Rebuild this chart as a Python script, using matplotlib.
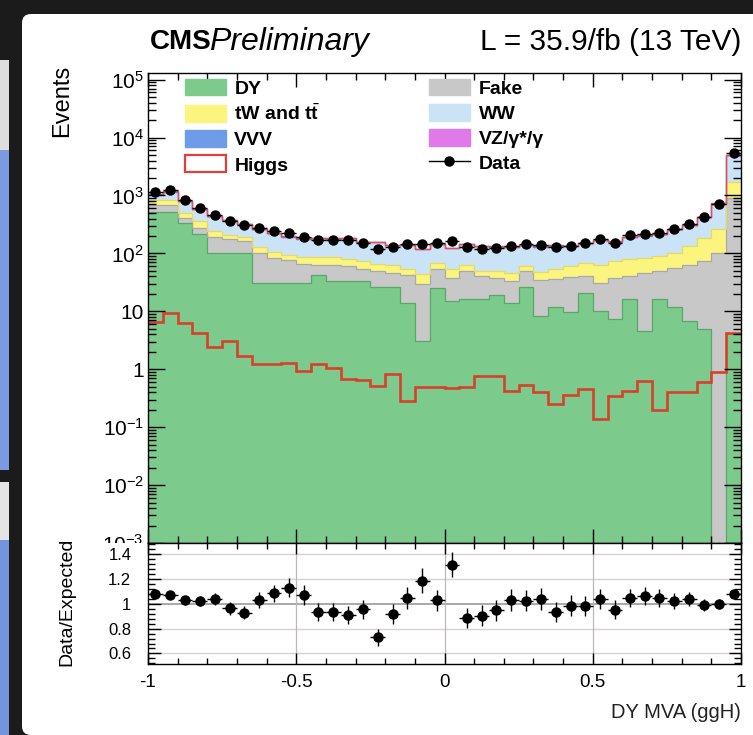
import numpy as np
import matplotlib
matplotlib.use('Agg')
import matplotlib.pyplot as plt
from matplotlib.patches import Rectangle, FancyBboxPatch, Patch
from matplotlib.lines import Line2D
from matplotlib.transforms import Bbox, TransformedBbox
from matplotlib.ticker import FixedLocator, MultipleLocator, LogLocator, FuncFormatter, NullFormatter

plt.rcParams['font.family'] = ['Liberation Sans', 'DejaVu Sans']
plt.rcParams['mathtext.fontset'] = 'custom'
plt.rcParams['mathtext.rm'] = 'Liberation Sans'
plt.rcParams['mathtext.it'] = 'Liberation Sans:italic'
plt.rcParams['mathtext.bf'] = 'Liberation Sans:bold'

# 40 bins of the DY MVA (ggH) output
edges = np.linspace(-1.0, 1.0, 41)
centers = 0.5 * (edges[1:] + edges[:-1])

dy = np.array([520, 510, 340, 213, 103, 103, 103, 31, 31, 31,
               31, 43, 34, 33, 33, 26, 26, 14, 3.1, 25,
               15, 16, 16, 19, 14, 26, 8.3, 12, 9.6, 21,
               10, 7.5, 16, 4.6, 16, 11.7, 6.7, 4.9, 0, 4.3])
fake = np.array([160, 180, 70, 64, 91, 71, 60, 69, 51, 45,
                 34, 21, 28, 27, 20, 23, 20, 28, 27, 28,
                 23, 33, 24, 19, 19, 23, 27, 24, 30, 19,
                 21, 30, 24, 41, 33, 44, 57, 69, 103, 896])
top = np.array([140, 140, 90, 83, 49, 30, 31, 30, 23, 19,
                20, 24, 23, 19, 21, 17, 16, 11, 14, 16,
                15, 15, 9, 11, 13, 11, 13, 17, 20, 29,
                33, 36, 39, 38, 41, 47, 70, 112, 157, 800])
ww = np.array([200, 314, 283, 211, 185, 159, 124, 125, 113, 95,
               91, 91, 92, 103, 82, 90, 72, 84, 73, 72,
               69, 79, 81, 79, 81, 76, 80, 81, 73, 79,
               100, 83, 111, 116, 119, 151, 164, 237, 452, 3143])
vz = np.array([20, 22, 15, 11, 8, 7, 6, 5, 4.5, 4,
               3.8, 3.7, 3.6, 3.5, 3.2, 3.1, 2.9, 2.8, 2.6, 2.8,
               2.6, 2.7, 2.6, 2.6, 2.6, 2.7, 2.6, 2.7, 2.7, 3.0,
               3.2, 3.2, 3.7, 3.9, 4.1, 4.8, 5.6, 7.5, 12, 60])
vvv = np.array([2.0, 2.2, 1.6, 1.2, 0.9, 0.8, 0.7, 0.6, 0.5, 0.5,
                0.45, 0.45, 0.45, 0.45, 0.4, 0.4, 0.4, 0.38, 0.35, 0.4,
                0.38, 0.4, 0.38, 0.38, 0.38, 0.4, 0.38, 0.4, 0.4, 0.42,
                0.45, 0.45, 0.5, 0.55, 0.58, 0.68, 0.8, 1.1, 1.8, 10])
higgs = np.array([6.5, 9.5, 6.4, 4.3, 2.4, 3.1, 1.7, 1.22, 1.22, 1.3,
                  0.93, 1.22, 1.07, 0.67, 0.65, 0.52, 0.82, 0.28, 0.5, 0.5,
                  0.47, 0.5, 0.75, 0.75, 0.42, 0.53, 0.40, 0.25, 0.36, 0.45,
                  0.14, 0.35, 0.42, 0.63, 0.20, 0.41, 0.41, 0.60, 0.88, 4.3])
data = np.array([1130, 1260, 830, 600, 457, 360, 303, 270, 243, 221,
                 194, 172, 170, 170, 153, 117, 127, 147, 143, 149,
                 165, 130, 121, 125, 134, 143, 137, 128, 134, 149,
                 174, 153, 204, 218, 224, 266, 316, 428, 725, 5300])

W, H = 753, 735
fig = plt.figure(figsize=(W / 100, H / 100), dpi=100)
fig.patch.set_facecolor('#1b1b1b')


def fbox(x0, y0, x1, y1):
    # pixel box (top-left origin) -> figure fraction [left, bottom, width, height]
    return [x0 / W, 1 - y1 / H, (x1 - x0) / W, (y1 - y0) / H]


# white canvas and the screen strip on the left
fig.patches.append(FancyBboxPatch((22 / W, 0), 1.0, 1 - 14 / H,
                                  boxstyle='round,pad=0,rounding_size=0.012',
                                  transform=fig.transFigure, fc='white', ec='none', zorder=-5))
for (x0, y0, x1, y1, c) in [(0, 60, 9, 150, '#dedede'), (0, 150, 9, 470, '#7b9be0'),
                            (0, 482, 9, 540, '#e4e4e4'), (0, 540, 9, 735, '#7395dc')]:
    b = fbox(x0, y0, x1, y1)
    fig.patches.append(Rectangle((b[0], b[1]), b[2], b[3], transform=fig.transFigure,
                                 fc=c, ec='none', zorder=-5))

ax = fig.add_axes(fbox(148, 73, 741, 543))
rax = fig.add_axes(fbox(148, 543, 741, 664), sharex=ax)

# stacked backgrounds
stack = [(dy, '#7ccb8d', '#58a86a'),
         (fake, '#c8c8c8', '#a9a9a9'),
         (top, '#fbf47f', '#e5dc5e'),
         (ww, '#cbe3f6', '#b2cfe8'),
         (vz, '#e07ae8', '#c05cc8'),
         (vvv, '#6e9ce8', '#5a86d0')]
cum = np.zeros(len(dy))
for vals, fc, ec in stack:
    new = cum + vals
    ax.stairs(new, edges, baseline=cum, fill=True, color=fc, lw=0, zorder=1)
    ax.stairs(new, edges, baseline=None, color=ec, lw=0.9, zorder=1.1)
    cum = new
total = cum + higgs
ax.stairs(total, edges, baseline=None, color='#e4505a', lw=1.0, zorder=1.2)
ax.stairs(higgs, edges, baseline=None, color='#d6412c', lw=1.9, zorder=1.3)

ax.errorbar(centers, data, xerr=0.025, yerr=np.sqrt(data), fmt='o', color='black',
            ms=6.5, lw=1.0, capsize=0, zorder=3)

ax.set_yscale('log', nonpositive='clip')
ax.set_xlim(-1, 1)
ax.set_ylim(1e-3, 1.3e5)

ymaj = [1e-3, 1e-2, 1e-1, 1, 10, 1e2, 1e3, 1e4, 1e5]
ylab = ['$10^{-3}$', '$10^{-2}$', '$10^{-1}$', '1', '10',
        '$10^{2}$', '$10^{3}$', '$10^{4}$', '$10^{5}$']
ax.yaxis.set_major_locator(FixedLocator(ymaj))
ax.set_yticklabels(ylab)
ax.yaxis.set_minor_locator(LogLocator(base=10, subs=np.arange(2, 10), numticks=20))
ax.yaxis.set_minor_formatter(NullFormatter())
ax.xaxis.set_major_locator(MultipleLocator(0.5))
ax.xaxis.set_minor_locator(MultipleLocator(0.1))
ax.tick_params(axis='both', which='both', direction='in', top=True, right=True,
               labelbottom=False, width=1.0)
ax.tick_params(axis='y', which='major', length=12, labelsize=15, pad=3)
ax.tick_params(axis='y', which='minor', length=6)
ax.tick_params(axis='x', which='major', length=10)
ax.tick_params(axis='x', which='minor', length=5)
for s in ax.spines.values():
    s.set_linewidth(1.0)

# legend, two columns filled row by row
h_dy = Patch(fc='#7ccb8d', ec='#7ccb8d')
h_fake = Patch(fc='#c8c8c8', ec='#c8c8c8')
h_top = Patch(fc='#fbf47f', ec='#fbf47f')
h_ww = Patch(fc='#cbe3f6', ec='#cbe3f6')
h_vvv = Patch(fc='#6e9ce8', ec='#6e9ce8')
h_vz = Patch(fc='#e07ae8', ec='#e07ae8')
h_h = Patch(fc='white', ec='#e0403a', lw=1.6)
h_data = Line2D([], [], color='black', marker='o', ms=6.5, lw=1.0)
handles = [h_dy, h_top, h_vvv, h_h, h_fake, h_ww, h_vz, h_data]
labels = ['DY', r'tW and t$\bar{\mathbf{t}}$', 'VVV', 'Higgs',
          'Fake', 'WW', 'VZ/γ*/γ', 'Data']
leg = ax.legend(handles, labels, ncol=2, loc='upper left', bbox_to_anchor=(0.062, 0.988),
                frameon=False, borderpad=0, borderaxespad=0, handlelength=2.1,
                handleheight=0.95, handletextpad=0.45, labelspacing=0.31,
                columnspacing=5.6, prop={'weight': 'bold', 'size': 14})

# ratio panel
ratio = data / total
rerr = np.sqrt(data) / total
for yv in [0.6, 0.8, 1.2, 1.4]:
    rax.axhline(yv, color='#d8cfd6', lw=1.0, zorder=0)
rax.axhline(1.0, color='#9a9a9a', lw=1.2, zorder=0)
for xv in [-0.5, 0, 0.5]:
    rax.axvline(xv, color='#b9b9b9', lw=0.9, zorder=0)
rax.errorbar(centers, ratio, xerr=0.025, yerr=rerr, fmt='o', color='black',
             ms=6.5, lw=1.0, capsize=0, zorder=3)
rax.set_ylim(0.515, 1.49)
rax.yaxis.set_major_locator(FixedLocator([0.6, 0.8, 1.0, 1.2, 1.4]))
rax.yaxis.set_minor_locator(MultipleLocator(0.04))
rax.yaxis.set_major_formatter(FuncFormatter(lambda v, p: '%g' % v))
rax.xaxis.set_major_formatter(FuncFormatter(lambda v, p: '%g' % v))
rax.tick_params(axis='both', which='both', direction='in', top=True, right=True, width=1.0)
rax.tick_params(axis='y', which='major', length=9, labelsize=12, pad=12)
rax.tick_params(axis='y', which='minor', length=5)
rax.tick_params(axis='x', which='major', length=8, labelsize=13.5, pad=7)
rax.tick_params(axis='x', which='minor', length=4)
for s in rax.spines.values():
    s.set_linewidth(1.0)

# the ratio pad hides the lower half of the 10^-3 label
clip = TransformedBbox(Bbox([[0, 1 - 543 / H], [1, 1]]), fig.transFigure)
low = ax.get_yticklabels()[0]
low.set_clip_box(clip)
low.set_clip_on(True)

fig.text(150 / W, 1 - 42 / H, 'CMS', fontsize=20, weight='bold', va='center', ha='left')
fig.text(209 / W, 1 - 42 / H, 'Preliminary', fontsize=23, style='italic', va='center', ha='left')
fig.text(741 / W, 1 - 42 / H, 'L = 35.9/fb (13 TeV)', fontsize=21.5, va='center', ha='right')
fig.text(62 / W, 1 - 65 / H, 'Events', fontsize=17, rotation=90, va='top', ha='center')
fig.text(67 / W, 1 - 602 / H, 'Data/Expected', fontsize=14, rotation=90, va='center', ha='center')
fig.text(741 / W, 1 - 713 / H, 'DY MVA (ggH)', fontsize=14.5, va='center', ha='right',
         color='#222222')

fig.savefig('out.png', dpi=100, facecolor=fig.get_facecolor())
